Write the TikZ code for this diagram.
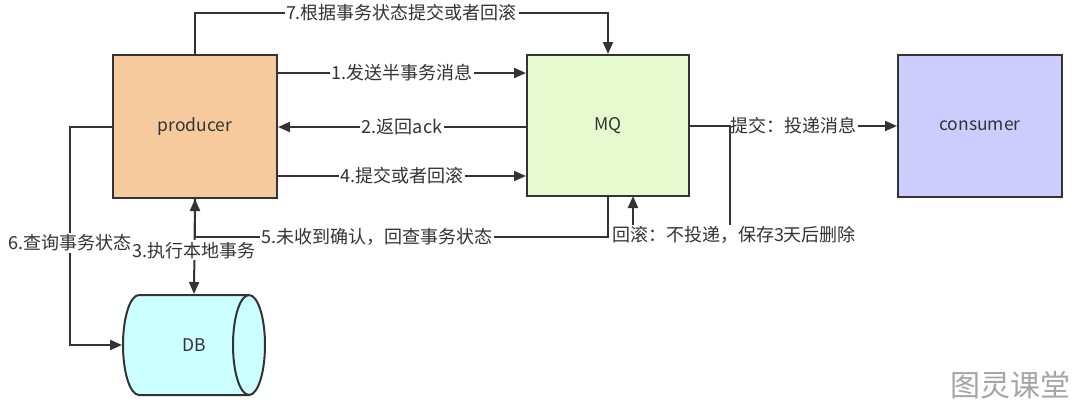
\documentclass[tikz,border=0pt]{standalone}
\usepackage{fontspec}
\setmainfont{Noto Sans CJK SC}
\usetikzlibrary{arrows.meta}
\definecolor{ink}{HTML}{333333}
\definecolor{prodfill}{HTML}{F7CA9E}
\definecolor{mqfill}{HTML}{E6F9CF}
\definecolor{consfill}{HTML}{CCCCFF}
\definecolor{dbfill}{HTML}{CCFFFF}
\definecolor{wm}{HTML}{A5A5A5}
\tikzset{
  box/.style={draw=ink, line width=2pt, text=ink, font=\fontsize{17.5}{19}\selectfont, inner sep=0pt},
  conn/.style={draw=ink, line width=2pt},
  arr/.style={conn, -{Triangle[length=12pt,width=10pt]}},
  lab/.style={fill=white, text=ink, inner sep=1.5pt, font=\fontsize{18}{20}\selectfont}
}
\begin{document}
\begin{tikzpicture}[x=1pt,y=-1pt]
\useasboundingbox[fill=white] (0,0) rectangle (1080,413);
\node[box, fill=prodfill, minimum width=164pt, minimum height=143pt] (producer) at (195,126.5) {producer};
\node[box, fill=mqfill, minimum width=162pt, minimum height=141pt] (mq) at (608,125.5) {MQ};
\node[box, fill=consfill, minimum width=164pt, minimum height=142pt] (consumer) at (980,126) {consumer};
% DB cylinder
\filldraw[fill=dbfill, draw=ink, line width=2pt] (139,295) -- (249,295)
  arc[start angle=90, end angle=-90, x radius=16pt, y radius=50pt] -- (139,395)
  arc[start angle=270, end angle=90, x radius=16pt, y radius=50pt] -- cycle;
\draw[ink, line width=2pt] (249,295) arc[start angle=90, end angle=270, x radius=16pt, y radius=50pt];
\node[box, draw=none, minimum width=142pt, minimum height=100pt] (db) at (194,345) {DB\hspace{22pt}};

% 7
\draw[arr] (producer.north) -- (195,13) -- node[lab]{7.根据事务状态提交或者回滚} (608,13) -- (mq.north);
% 1
\draw[arr] (producer.east |- 0,73) -- node[lab]{1.发送半事务消息} (mq.west |- 0,73);
% 2
\draw[arr] (mq.west |- 0,127) -- node[lab]{2.返回ack} (producer.east |- 0,127);
% 4
\draw[arr] (producer.east |- 0,176) -- node[lab]{4.提交或者回滚} (mq.west |- 0,176);
% commit
\draw[arr] (mq.east |- 0,126) -- node[lab]{提交：投递消息} (consumer.west |- 0,126);
% rollback
\draw[arr] (mq.east |- 0,126) -- (730,126) -- (730,237) -- (633,237) -- (633,196);
% 5
\draw[arr] (mq.south) -- (608,237) -- node[lab, pos=0.56]{5.未收到确认，回查事务状态} (195,237) -- (producer.south);
\node[lab] (rblab) at (734,235) {回滚：不投递，保存3天后删除};
% 3
\draw[arr] (producer.south) -- node[lab, pos=0.54]{3.执行本地事务} (db.north);
% 6
\draw[arr] (producer.west) -- (70,126.5) -- node[lab, pos=0.533]{6.查询事务状态} (70,345) -- (db.west);

\node[text=wm, font=\fontsize{30}{32}\selectfont] (wmark) at (1010,385) {图灵课堂};
\end{tikzpicture}
\end{document}
